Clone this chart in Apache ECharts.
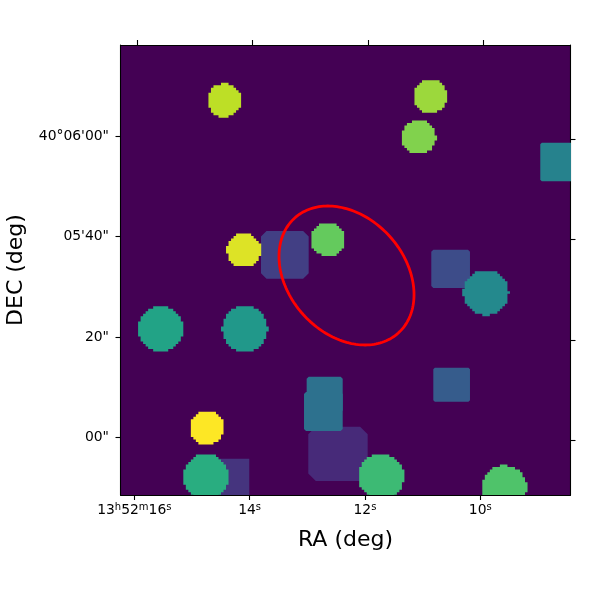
<!DOCTYPE html>
<html><head><meta charset="utf-8">
<style>html,body{margin:0;padding:0;background:#fff}#c{width:600px;height:600px}</style>
<script src="https://cdn.jsdelivr.net/npm/echarts@6/dist/echarts.min.js"></script>
</head><body><div id="c"></div>
<script>
// Tick positions and labels (RA in seconds of 13h52m, DEC in arcsec above 40d05m00s)
const raTicks = [16, 14, 12, 10];
const raLabels = ['13{s|h}52{s|m}16{s|s}', '14{s|s}', '12{s|s}', '10{s|s}'];
const decTicks = [60, 40, 20, 0];
const decLabels = ['40°06\'00"', '05\'40"', '20"', '00"'];

// Round sources
const circleRa     = [14.439, 14.098, 12.641, 10.867, 11.067, 15.546, 14.084, 14.739, 14.757, 9.901, 11.719, 9.586];
const circleDec    = [67.10, 37.21, 39.44, 67.92, 59.76, 21.59, 21.59, 1.95, -7.82, 28.82, -7.82, -10.05];
const circleRadius = [3.38, 3.42, 3.44, 3.40, 3.42, 4.54, 4.54, 3.42, 4.54, 4.52, 4.54, 4.50];
const circleValue  = [0.90, 0.95, 0.76, 0.85, 0.81, 0.58, 0.53, 1.0, 0.62, 0.47, 0.68, 0.72];

// Box sources, back to front
const boxRaLeft   = [12.983, 14.601, 13.803, 10.850, 10.815, 8.96, 13.011, 13.057];
const boxRaRight  = [11.953, 14.006, 12.976, 10.179, 10.179, 8.30, 12.386, 12.386];
const boxDecTop   = [2.15, -4.22, 41.09, 37.37, 13.89, 58.67, 12.10, 9.05];
const boxDecBot   = [-8.66, -14, 31.60, 29.75, 7.12, 50.99, 5.0, 1.29];
const boxCorner   = [1.5, 0, 1.1, 0.4, 0.3, 0.3, 0.4, 0.4];
const boxValue    = [0.12, 0.15, 0.185, 0.23, 0.29, 0.44, 0.37, 0.37];

// Red region
const ellipseRa = [12.320], ellipseDec = [32.24], ellipseMajor = [15.4], ellipseMinor = [11.6], ellipseAngle = [48];

const viridis = ['#440154','#482475','#414487','#355f8d','#2a788e','#21918c','#22a884','#44bf70','#7ad151','#bddf26','#fde725'];
const FONT = 'DejaVu Sans';
const CELL = 0.5; // image pixel, arcsec

function steppedCircle(cx, cy, r, cell, ox, oy) {
  const left = [], right = [];
  const k0 = Math.floor((cy - r - oy) / cell), k1 = Math.ceil((cy + r - oy) / cell);
  for (let k = k0; k < k1; k++) {
    const mid = oy + (k + 0.5) * cell, d = Math.abs(mid - cy);
    if (d >= r) continue;
    const h = Math.sqrt(r * r - d * d);
    if (h < 1.4 * cell) continue;
    const xl = ox + Math.round((cx - h - ox) / cell) * cell;
    const xr = ox + Math.round((cx + h - ox) / cell) * cell;
    const y0 = oy + k * cell, y1 = y0 + cell;
    left.push([xl, y0], [xl, y1]);
    right.push([xr, y0], [xr, y1]);
  }
  return left.concat(right.reverse());
}

const chart = echarts.init(document.getElementById('c'), null, {renderer: 'canvas'});
const axisLine = {show: true, onZero: false, lineStyle: {color: '#000', width: 1.1}};
const tick = (vals) => ({show: true, length: 5, lineStyle: {color: '#000', width: 1.1}, customValues: vals});

chart.setOption({
  animation: false,
  backgroundColor: '#fff',
  grid: {left: 120.5, top: 45, width: 450, height: 450, show: true, backgroundColor: viridis[0], borderWidth: 0, outerBoundsMode: 'none'},
  visualMap: {show: false, seriesIndex: [0, 1], dimension: 0, min: 0, max: 1, inRange: {color: viridis}},
  xAxis: [
    {type: 'value', position: 'bottom', inverse: true, min: 8.436, max: 16.239, splitLine: {show: false},
     name: 'RA (deg)', nameLocation: 'middle', nameGap: 34,
     nameTextStyle: {fontFamily: FONT, fontSize: 22, color: '#000'},
     axisLine, axisTick: tick(raTicks),
     axisLabel: {show: true, customValues: raTicks, margin: 7.5, fontFamily: FONT, fontSize: 13.9, color: '#000',
       formatter: v => raLabels[raTicks.indexOf(v)] || '',
       rich: {s: {fontFamily: FONT, fontSize: 10, color: '#000', verticalAlign: 'top', lineHeight: 16}}}},
    {type: 'value', position: 'top', inverse: true, min: 8.483, max: 16.295, splitLine: {show: false},
     axisLine, axisTick: tick(raTicks), axisLabel: {show: false}}
  ],
  yAxis: [
    {type: 'value', position: 'left', min: -11.44, max: 78.11, splitLine: {show: false},
     name: 'DEC (deg)', nameLocation: 'middle', nameGap: 93,
     nameTextStyle: {fontFamily: FONT, fontSize: 22, color: '#000'},
     axisLine, axisTick: tick(decTicks),
     axisLabel: {show: true, customValues: decTicks, margin: 11.5, fontFamily: FONT, fontSize: 13.9, color: '#000',
       formatter: v => decLabels[decTicks.indexOf(v)] || ''}},
    {type: 'value', position: 'right', min: -10.84, max: 78.71, splitLine: {show: false},
     axisLine, axisTick: tick(decTicks), axisLabel: {show: false}}
  ],
  series: [
    {type: 'custom', clip: true, xAxisIndex: 0, yAxisIndex: 0, z: 2,
     data: boxValue.map((v, i) => [v, boxRaLeft[i], boxRaRight[i], boxDecTop[i], boxDecBot[i], boxCorner[i]]),
     encode: {x: [1, 2], y: [3, 4]},
     renderItem(params, api) {
       const a = api.coord([api.value(1), api.value(3)]);
       const b = api.coord([api.value(2), api.value(4)]);
       const c = api.value(5) * api.size([0, 1])[1];
       const pts = [[a[0] + c, a[1]], [b[0] - c, a[1]], [b[0], a[1] + c], [b[0], b[1] - c],
                    [b[0] - c, b[1]], [a[0] + c, b[1]], [a[0], b[1] - c], [a[0], a[1] + c]];
       return {type: 'polygon', shape: {points: pts}, style: {fill: api.visual('color')}};
     }},
    {type: 'custom', clip: true, xAxisIndex: 0, yAxisIndex: 0, z: 3,
     data: circleValue.map((v, i) => [v, circleRa[i], circleDec[i], circleRadius[i]]),
     encode: {x: 1, y: 2},
     renderItem(params, api) {
       const p = api.coord([api.value(1), api.value(2)]);
       const u = api.size([0, 1])[1];
       const pts = steppedCircle(p[0], p[1], api.value(3) * u, CELL * u, params.coordSys.x, params.coordSys.y);
       return {type: 'polygon', shape: {points: pts}, style: {fill: api.visual('color')}};
     }},
    {type: 'custom', clip: true, xAxisIndex: 0, yAxisIndex: 0, z: 4,
     data: ellipseRa.map((r, i) => [r, ellipseDec[i], ellipseMajor[i], ellipseMinor[i], ellipseAngle[i]]),
     encode: {x: 0, y: 1},
     renderItem(params, api) {
       const p = api.coord([api.value(0), api.value(1)]);
       const u = api.size([0, 1])[1];
       const ra = api.value(2) * u, rb = api.value(3) * u, th = api.value(4) * Math.PI / 180;
       const pts = [];
       for (let t = 0; t < 180; t++) {
         const q = t * Math.PI / 90, ex = ra * Math.cos(q), ey = rb * Math.sin(q);
         pts.push([p[0] + ex * Math.cos(th) - ey * Math.sin(th), p[1] + ex * Math.sin(th) + ey * Math.cos(th)]);
       }
       return {type: 'polygon', shape: {points: pts}, style: {fill: 'none', stroke: '#ff0000', lineWidth: 2.8}};
     }}
  ]
});
</script></body></html>
